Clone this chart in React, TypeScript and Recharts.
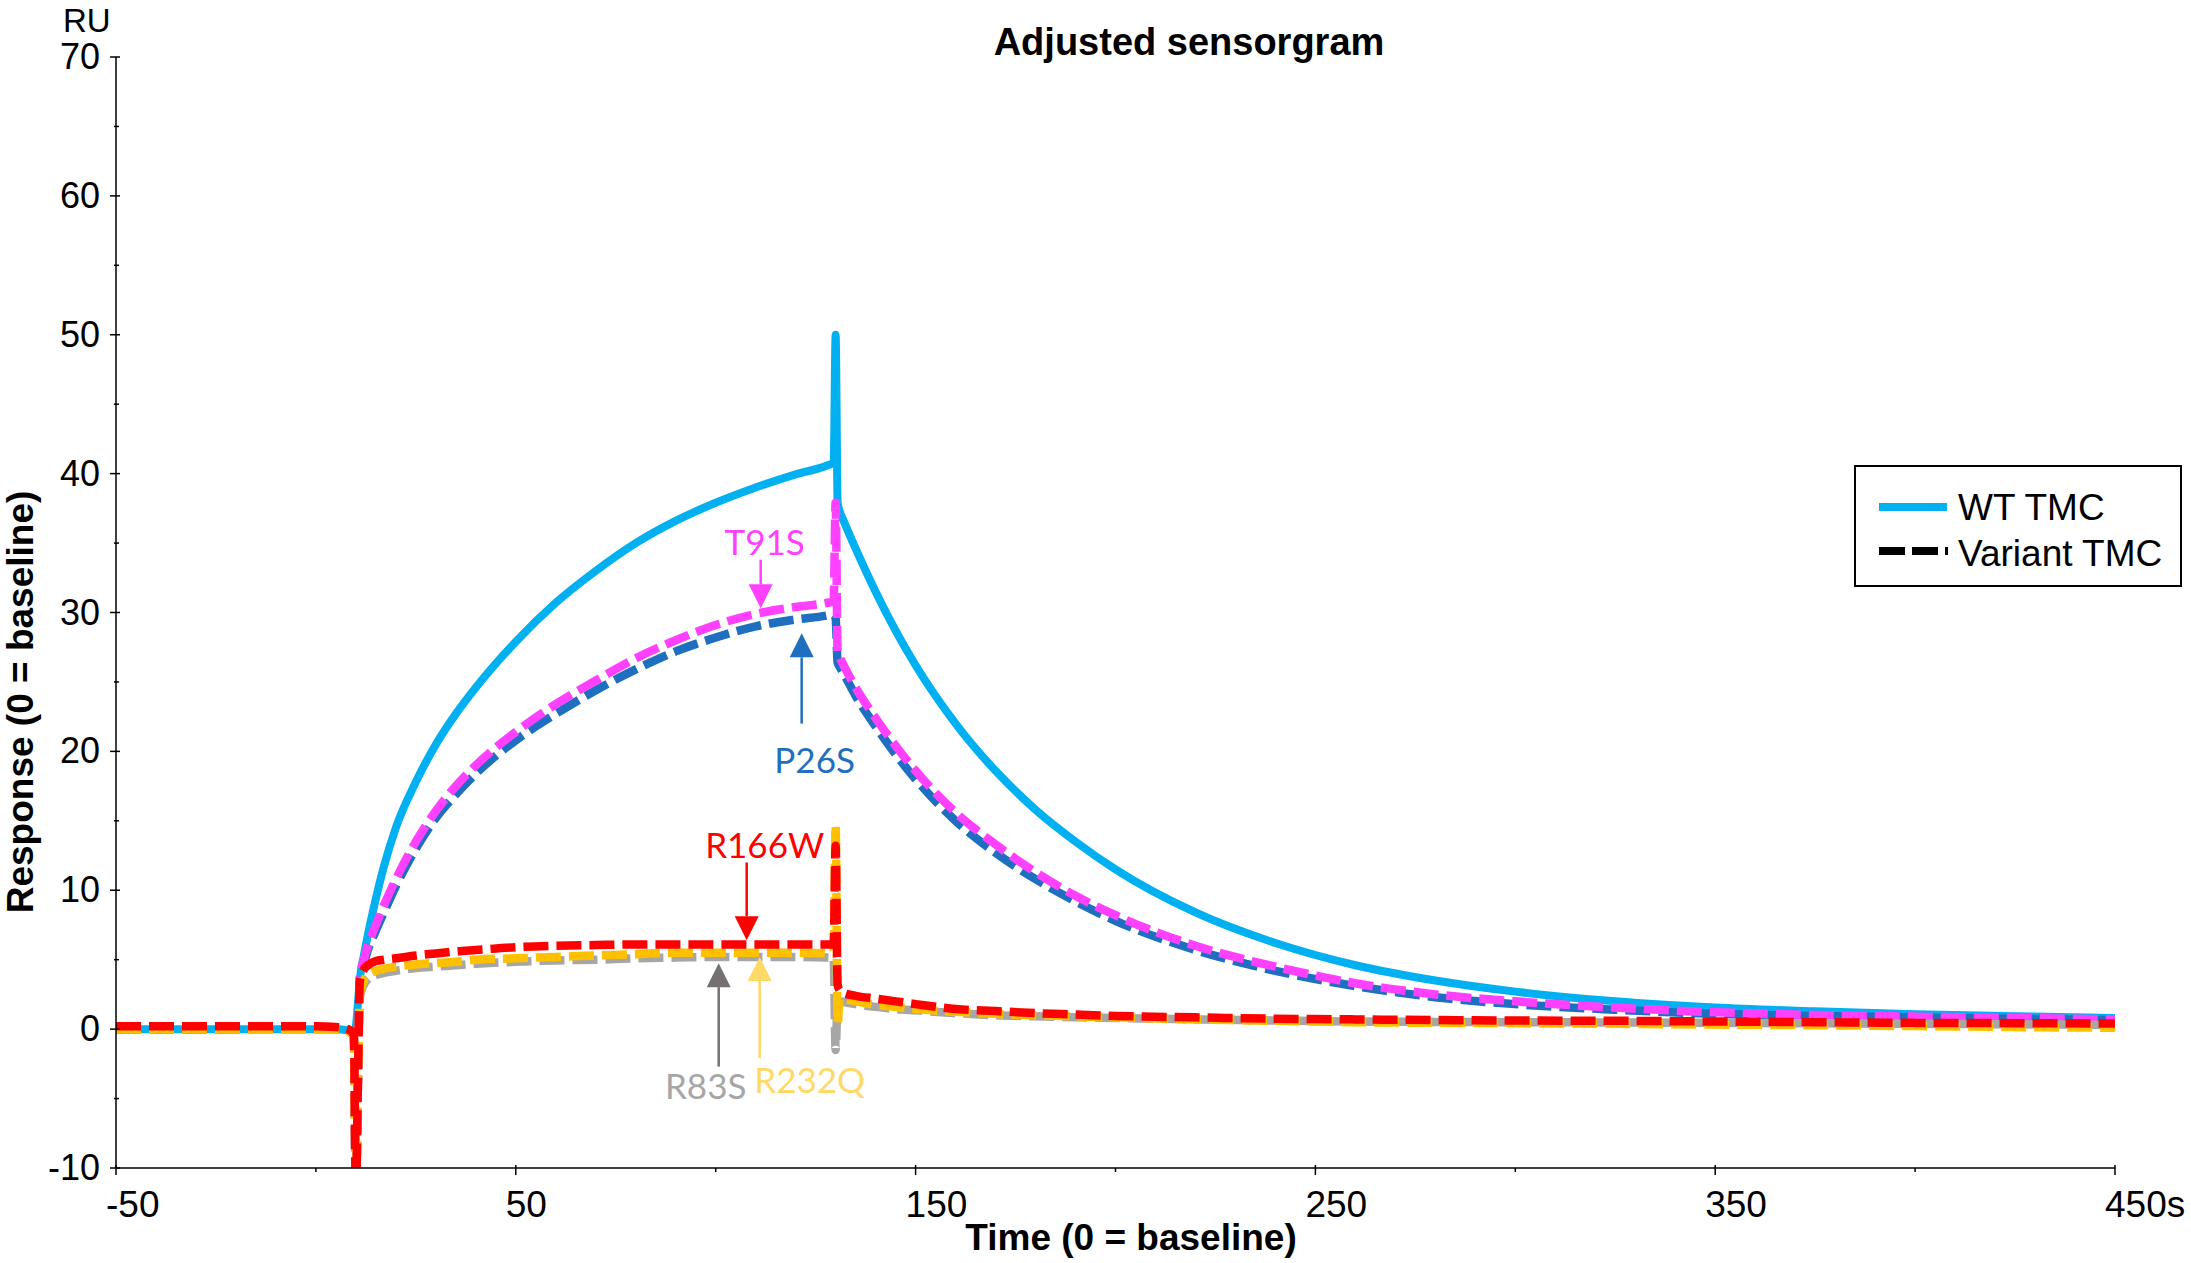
import React from 'react';
import { LineChart, Line, XAxis, YAxis, ReferenceLine, ReferenceDot, Customized } from 'recharts';

const TIME = [-50, -30, -10, 0, 5, 8, 9.5, 10, 10.5, 11, 12, 13, 15, 17, 20, 25, 30, 35, 40, 50, 60, 70, 80, 90, 100, 110, 120, 128, 129.5, 130, 130.5, 131, 132, 135, 140, 145, 150, 160, 170, 180, 190, 200, 220, 240, 260, 280, 300, 325, 350, 375, 400, 425, 450];

const WT_TMC = [0, 0, 0, 0, 0, -0.1, -0.3, 0.2, 1.8, 3.6, 5.3, 6.8, 9.4, 11.7, 14.5, 17.8, 20.5, 22.7, 24.6, 27.9, 30.7, 33.0, 35.0, 36.6, 37.9, 39.0, 39.95, 40.6, 40.8, 50, 37.9, 37.3, 36.6, 34.6, 31.5, 28.7, 26.2, 22.0, 18.6, 15.8, 13.5, 11.5, 8.4, 6.2, 4.6, 3.5, 2.7, 2.0, 1.55, 1.28, 1.08, 0.93, 0.8];

const P26S = [0, 0, 0, 0, 0, -0.1, -0.6, -12, -4, 3.6, 4.7, 5.7, 7.1, 8.4, 10.3, 13.0, 15.2, 16.9, 18.4, 20.8, 22.7, 24.4, 25.9, 27.2, 28.2, 29.0, 29.5, 29.8, 29.9, 29.6, 26.4, 26.1, 25.6, 24.0, 21.8, 19.8, 18.0, 15.0, 12.7, 10.8, 9.2, 7.8, 5.7, 4.2, 3.1, 2.3, 1.8, 1.4, 1.1, 0.95, 0.85, 0.75, 0.65];

const T91S = [0, 0, 0, 0, 0, -0.1, -0.6, -12, -4, 3.8, 5.0, 6.0, 7.5, 8.9, 10.8, 13.5, 15.7, 17.5, 19.0, 21.4, 23.4, 25.1, 26.7, 28.0, 29.1, 29.9, 30.4, 30.7, 30.8, 37.9, 27.2, 26.8, 26.2, 24.6, 22.4, 20.4, 18.6, 15.6, 13.3, 11.3, 9.6, 8.2, 6.0, 4.5, 3.3, 2.5, 2.0, 1.55, 1.22, 1.02, 0.9, 0.8, 0.7];

const R83S = [0, 0, 0, 0, 0, -0.1, -0.6, -12, -4, 2.3, 3.2, 3.6, 3.9, 4.05, 4.2, 4.4, 4.5, 4.6, 4.7, 4.85, 4.95, 5.0, 5.1, 5.15, 5.2, 5.2, 5.2, 5.15, 5.1, -1.5, 2.0, 2.0, 1.95, 1.8, 1.6, 1.45, 1.35, 1.15, 1.0, 0.92, 0.85, 0.8, 0.7, 0.62, 0.55, 0.52, 0.5, 0.48, 0.45, 0.42, 0.38, 0.35, 0.3];

const R232Q = [0, 0, -0.05, -0.05, -0.05, -0.15, -0.6, -12, -4, 2.5, 3.5, 3.9, 4.2, 4.35, 4.5, 4.65, 4.75, 4.85, 5.0, 5.1, 5.2, 5.3, 5.4, 5.5, 5.5, 5.5, 5.5, 5.45, 5.4, 14.7, 0.4, 2.3, 2.2, 2.0, 1.75, 1.6, 1.45, 1.25, 1.1, 1.0, 0.92, 0.85, 0.7, 0.6, 0.5, 0.45, 0.42, 0.38, 0.33, 0.28, 0.22, 0.15, 0.1];

const R166W = [0.2, 0.2, 0.2, 0.2, 0.15, 0.0, -0.4, -12, -4, 3.5, 4.3, 4.6, 4.9, 5.0, 5.1, 5.3, 5.45, 5.6, 5.7, 5.9, 6.0, 6.05, 6.1, 6.1, 6.1, 6.1, 6.1, 6.1, 6.1, 13.2, 3.2, 2.8, 2.6, 2.4, 2.2, 2.0, 1.8, 1.45, 1.3, 1.15, 1.05, 0.95, 0.85, 0.75, 0.7, 0.65, 0.62, 0.6, 0.55, 0.5, 0.45, 0.43, 0.4];

const X_TICKS = [-50, 0, 50, 100, 150, 200, 250, 300, 350, 400, 450];
const X_MAJOR = [-50, 50, 150, 250, 350, 450];
const Y_TICKS = [-10, -5, 0, 5, 10, 15, 20, 25, 30, 35, 40, 45, 50, 55, 60, 65, 70];
const Y_MAJOR = [-10, 0, 10, 20, 30, 40, 50, 60, 70];

const ARROWS = [
  { name: 'T91S', x: 111.25, from: 33.8, to: 30.3, color: '#FF40FF' },
  { name: 'P26S', x: 121.5, from: 22, to: 28.5, color: '#1F6FC0' },
  { name: 'R166W', x: 107.75, from: 12, to: 6.4, color: '#FF0000' },
  { name: 'R83S', x: 100.75, from: -2.7, to: 4.75, color: '#767171' },
  { name: 'R232Q', x: 111, from: -2.1, to: 5.2, color: '#FFD966' },
];

const LABELS = [
  { text: 'T91S', x: 112.25, y: 35, color: '#FF40FF' },
  { text: 'P26S', x: 124.75, y: 19.3, color: '#1F6FC0' },
  { text: 'R166W', x: 112.25, y: 13.2, color: '#FF0000' },
  { text: 'R83S', x: 97.5, y: -4.2, color: '#A6A6A6' },
  { text: 'R232Q', x: 123.5, y: -3.7, color: '#FFD966' },
];

const rows = TIME.map((t, i) => ({
  t,
  wt: WT_TMC[i],
  p26s: P26S[i],
  t91s: T91S[i],
  r83s: R83S[i],
  r232q: R232Q[i],
  r166w: R166W[i],
}));

const FONT = "'Liberation Sans', Arial, sans-serif";
const ANNOT_FONT = "Lato, 'Noto Sans', sans-serif";

const XTick = (props: any) => {
  const { x, y, payload } = props;
  const v = payload.value;
  const major = X_MAJOR.includes(v);
  return (
    <g>
      <line x1={x} x2={x} y1={major ? y - 3 : y} y2={major ? y + 7 : y + 4} stroke="#000" strokeWidth={1.5} />
      {major && (
        <text x={x - 10} y={y + 49} textAnchor="start" fontSize={37} fontFamily={FONT} fill="#000">
          {v === 450 ? '450s' : String(v)}
        </text>
      )}
    </g>
  );
};

const YTick = (props: any) => {
  const { x, y, payload } = props;
  const v = payload.value;
  const major = Y_MAJOR.includes(v);
  return (
    <g>
      <line x1={major ? x - 6 : x - 2} x2={major ? x + 4 : x + 3} y1={y} y2={y} stroke="#000" strokeWidth={1.5} />
      {major && (
        <text x={x - 16} y={y + 12} textAnchor="end" fontSize={36} fontFamily={FONT} fill="#000">
          {String(v)}
        </text>
      )}
    </g>
  );
};

const makeArrow = (color: string) => (p: any) => {
  const { x1, y1, x2, y2 } = p;
  const dir = y2 > y1 ? 1 : -1;
  const hh = 24;
  const hw = 12;
  return (
    <g>
      <line x1={x1} y1={y1} x2={x2} y2={y2 - dir * hh} stroke={color} strokeWidth={2.5} />
      <polygon points={`${x2},${y2} ${x2 - hw},${y2 - dir * hh} ${x2 + hw},${y2 - dir * hh}`} fill={color} />
    </g>
  );
};

const makeLabel = (text: string, color: string) => (p: any) => (
  <text x={p.cx} y={p.cy + 12} textAnchor="middle" fontSize={35} fontFamily={ANNOT_FONT} fill={color}>
    {text}
  </text>
);

const Decorations = () => (
  <g fontFamily={FONT}>
    <text x={63} y={31.5} fontSize={33} fill="#000">RU</text>
    <text x={1189} y={55} textAnchor="middle" fontSize={38} fontWeight="bold" fill="#000">Adjusted sensorgram</text>
    <text x={1131} y={1250} textAnchor="middle" fontSize={37} fontWeight="bold" fill="#000">Time (0 = baseline)</text>
    <text x={33} y={702} textAnchor="middle" fontSize={37} fontWeight="bold" fill="#000" transform="rotate(-90 33 702)">Response (0 = baseline)</text>
    <g>
      <rect x={1855} y={466} width={326} height={120} fill="#fff" stroke="#000" strokeWidth={2} />
      <line x1={1879} x2={1947} y1={507} y2={507} stroke="#00B0F0" strokeWidth={8} />
      <text x={1958} y={520} fontSize={37} fill="#000">WT TMC</text>
      <line x1={1879} x2={1948} y1={551} y2={551} stroke="#000" strokeWidth={8} strokeDasharray="26 7" />
      <text x={1958} y={566} fontSize={37} fill="#000">Variant TMC</text>
    </g>
  </g>
);

const SERIES = [
  { key: 'wt', color: '#00B0F0', dash: undefined, width: 8 },
  { key: 'p26s', color: '#1F6FC0', dash: '25 8', width: 8.5 },
  { key: 't91s', color: '#FF40FF', dash: '25 8', width: 8.5 },
  { key: 'r83s', color: '#A6A6A6', dash: '25 8', width: 8.5 },
  { key: 'r232q', color: '#FFC000', dash: '25 8', width: 8.5 },
  { key: 'r166w', color: '#FF0000', dash: '25 8', width: 8.5 },
];

export default function App() {
  return (
    <div style={{ position: 'absolute', left: 0, top: 0, width: 2191, height: 1263, background: '#fff' }}>
      <LineChart
        width={2191}
        height={1263}
        data={rows}
        margin={{ top: 57, right: 76, bottom: 35, left: 16 }}
        style={{ fontFamily: FONT }}
      >
        <XAxis
          dataKey="t"
          type="number"
          domain={[-50, 450]}
          ticks={X_TICKS}
          interval={0}
          allowDataOverflow
          height={60}
          tickSize={0}
          tickMargin={0}
          tickLine={false}
          axisLine={{ stroke: '#000', strokeWidth: 1.5 }}
          tick={<XTick />}
        />
        <YAxis
          type="number"
          domain={[-10, 70]}
          ticks={Y_TICKS}
          interval={0}
          allowDataOverflow
          width={100}
          tickSize={0}
          tickMargin={0}
          tickLine={false}
          axisLine={{ stroke: '#000', strokeWidth: 1.5 }}
          tick={<YTick />}
        />
        {SERIES.map((s) => (
          <Line
            key={s.key}
            dataKey={s.key}
            type="monotone"
            stroke={s.color}
            strokeWidth={s.width}
            strokeDasharray={s.dash}
            dot={false}
            activeDot={false}
            isAnimationActive={false}
          />
        ))}
        {ARROWS.map((a) => (
          <ReferenceLine
            key={a.name}
            segment={[{ x: a.x, y: a.from }, { x: a.x, y: a.to }]}
            stroke={a.color}
            shape={makeArrow(a.color)}
          />
        ))}
        {LABELS.map((l) => (
          <ReferenceDot key={l.text} x={l.x} y={l.y} r={0} shape={makeLabel(l.text, l.color)} />
        ))}
        <Customized component={<Decorations />} />
      </LineChart>
    </div>
  );
}
